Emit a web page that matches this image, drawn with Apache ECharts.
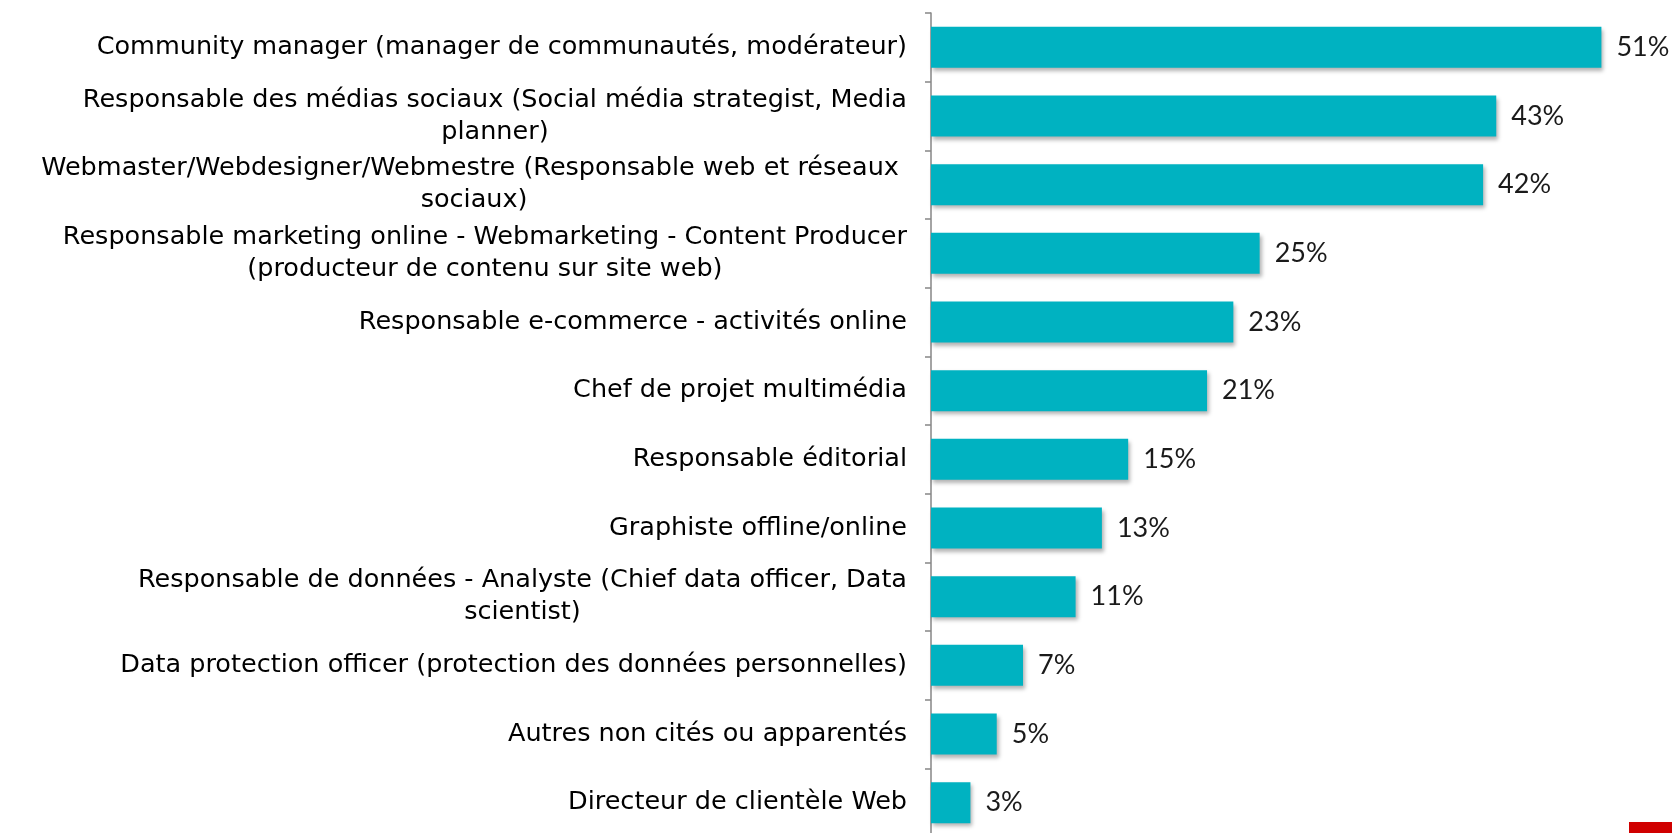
<!DOCTYPE html>
<html>
<head>
<meta charset="utf-8">
<script src="https://cdn.jsdelivr.net/npm/echarts@6/dist/echarts.min.js"></script>
<style>
  html, body { margin: 0; padding: 0; background: #fff; }
  #chart { width: 1672px; height: 833px; }
</style>
</head>
<body>
<div id="chart"></div>
<script>
// categories, top to bottom
const metiers = [
  'Community manager (manager de communautés, modérateur)',
  'Responsable des médias sociaux (Social média strategist, Media\nplanner)',
  'Webmaster/Webdesigner/Webmestre (Responsable web et réseaux \nsociaux)',
  'Responsable marketing online - Webmarketing - Content Producer\n(producteur de contenu sur site web)',
  'Responsable e-commerce - activités online',
  'Chef de projet multimédia',
  'Responsable éditorial',
  'Graphiste offline/online',
  'Responsable de données - Analyste (Chief data officer, Data\nscientist)',
  'Data protection officer (protection des données personnelles)',
  'Autres non cités ou apparentés',
  'Directeur de clientèle Web'
];
const pourcentages = [51, 43, 42, 25, 23, 21, 15, 13, 11, 7, 5, 3];

const myChart = echarts.init(document.getElementById('chart'));
myChart.setOption({
  animation: false,
  grid: {left: 931, right: 18, top: 13, bottom: -4, containLabel: false, outerBoundsMode: 'none'},
  xAxis: {
    type: 'value',
    min: 0,
    max: 55,
    show: false,
    splitLine: {show: false}
  },
  yAxis: {
    type: 'category',
    inverse: true,
    data: metiers,
    axisLine: {show: true, lineStyle: {color: '#868686', width: 1.5}},
    axisTick: {show: true, length: 6, lineStyle: {color: '#868686', width: 1.5}},
    axisLabel: {
      margin: 24,
      align: 'right',
      // lignes centrées entre elles, bloc aligné à droite
      formatter: function (v) {
        return v.split('\n').map(s => '{c|' + s + '}').join('\n');
      },
      rich: {
        c: {
          align: 'center',
          fontFamily: 'DejaVu Sans',
          fontSize: 25.5,
          lineHeight: 32,
          color: '#000'
        }
      }
    }
  },
  series: [{
    type: 'bar',
    data: pourcentages,
    barWidth: 41,
    itemStyle: {
      color: '#00B2C1',
      shadowColor: 'rgba(0,0,0,0.3)',
      shadowBlur: 4,
      shadowOffsetX: 2,
      shadowOffsetY: 3
    },
    label: {
      show: true,
      position: 'right',
      distance: 15,
      formatter: '{c}%',
      fontFamily: 'Lato',
      fontSize: 27,
      color: '#1a1a1a'
    }
  }],
  graphic: [{
    type: 'rect',
    left: 1629,
    top: 822,
    shape: {width: 43, height: 11},
    style: {fill: '#D00000'}
  }]
});
</script>
</body>
</html>
